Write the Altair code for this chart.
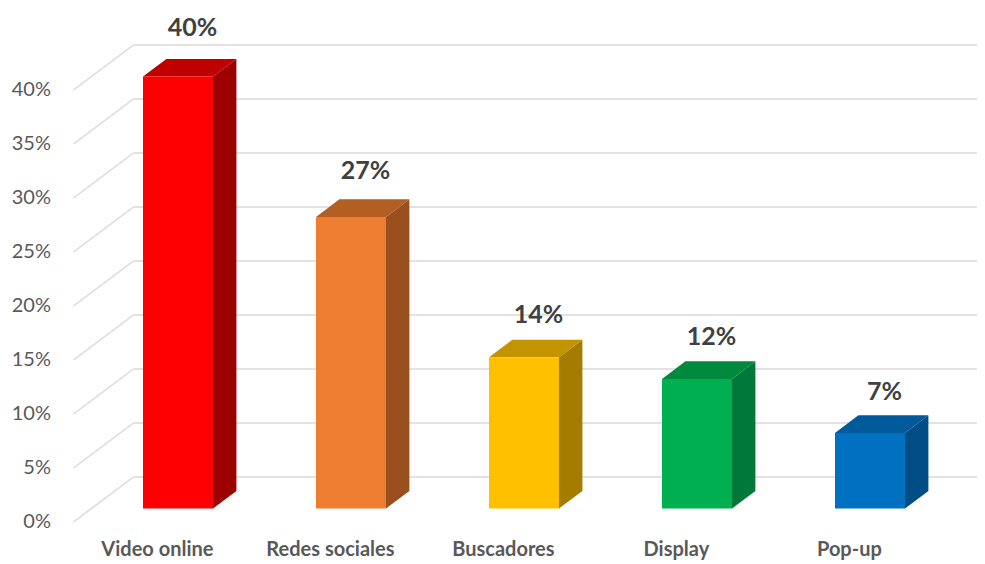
import altair as alt
import pandas as pd

# ---- data ----
categories = ["Video online", "Redes sociales", "Buscadores", "Display", "Pop-up"]
values = [40, 27, 14, 12, 7]
tick_values = [0, 5, 10, 15, 20, 25, 30, 35, 40]
tick_labels = ["0%", "5%", "10%", "15%", "20%", "25%", "30%", "35%", "40%"]

# ---- styles ----
front_colors = ["#FF0000", "#ED7D31", "#FFC000", "#00B050", "#0070C0"]
top_colors = ["#C00000", "#B35E22", "#C49300", "#008A3E", "#005A9B"]
side_colors = ["#9C0000", "#9A4F1E", "#A67C00", "#00783A", "#004C84"]
FONT = "Lato"

# ---- 3D projection geometry (category slot units / percent units) ----
PX_PER_SLOT = 173.0
PX_PER_PCT = 10.8
DX = 60.0 / PX_PER_SLOT      # depth shift in x (slot units)
DY = 45.0 / PX_PER_PCT       # depth shift in y (percent units)
Z0, Z1 = 0.30, 0.69          # bar front / back depth
BW = 70.0 / PX_PER_SLOT      # bar width

W, H = 969, 556
x_min = (8 - 160) / PX_PER_SLOT
x_max = x_min + W / PX_PER_SLOT
y_max = (522 - 8) / PX_PER_PCT
y_min = y_max - H / PX_PER_PCT

XS = alt.Scale(domain=[x_min, x_max], nice=False, zero=False)
YS = alt.Scale(domain=[y_min, y_max], nice=False, zero=False)

# gridlines on back wall
grid_df = pd.DataFrame({
    "x": [-0.5 + DX] * len(tick_values),
    "x2": [x_max + 1] * len(tick_values),
    "y": [t + DY for t in tick_values],
})
diag_df = pd.DataFrame({
    "x": [-0.5] * len(tick_values),
    "x2": [-0.5 + DX] * len(tick_values),
    "y": list(tick_values),
    "y2": [t + DY for t in tick_values],
})
ylab_df = pd.DataFrame({
    "x": [(51 - 160) / PX_PER_SLOT] * len(tick_values),
    "y": list(tick_values),
    "t": tick_labels,
})

front_rows, side_rows, top_rows, lab_rows, cat_rows = [], [], [], [], []
for i, (c, v) in enumerate(zip(categories, values)):
    cx0 = i + Z0 * DX
    cx1 = i + Z1 * DX
    y0 = Z0 * DY
    y1 = Z1 * DY
    front_rows.append({"cat": c, "x": cx0 - BW / 2, "x2": cx0 + BW / 2,
                       "y": y0, "y2": v + y0, "col": front_colors[i]})
    side_rows += [
        {"cat": c, "x": cx0 + BW / 2, "y": v + y0, "y2": y0, "col": side_colors[i]},
        {"cat": c, "x": cx1 + BW / 2, "y": v + y1, "y2": y1, "col": side_colors[i]},
    ]
    top_rows += [
        {"cat": c, "y": v + y0, "x": cx0 - BW / 2, "x2": cx0 + BW / 2, "col": top_colors[i]},
        {"cat": c, "y": v + y1, "x": cx1 - BW / 2, "x2": cx1 + BW / 2, "col": top_colors[i]},
    ]
    lab_rows.append({"x": i + 0.54 * DX, "y": v * 1.022 + 4.9, "t": f"{v}%"})
    cat_rows.append({"x": i - 0.015, "y": (522 - 550) / PX_PER_PCT, "t": c})

front_df = pd.DataFrame(front_rows)
side_df = pd.DataFrame(side_rows)
top_df = pd.DataFrame(top_rows)
lab_df = pd.DataFrame(lab_rows)
cat_df = pd.DataFrame(cat_rows)

grid = alt.Chart(grid_df).mark_rule(color="#D9D9D9", strokeWidth=1.5).encode(
    x=alt.X("x:Q", scale=XS, axis=None), x2="x2:Q",
    y=alt.Y("y:Q", scale=YS, axis=None))
diag = alt.Chart(diag_df).mark_rule(color="#D9D9D9", strokeWidth=1.5).encode(
    x=alt.X("x:Q", scale=XS, axis=None), x2="x2:Q",
    y=alt.Y("y:Q", scale=YS, axis=None), y2="y2:Q")
ylab = alt.Chart(ylab_df).mark_text(font=FONT, fontSize=20, color="#595959",
                                    align="right", baseline="middle").encode(
    x=alt.X("x:Q", scale=XS, axis=None), y=alt.Y("y:Q", scale=YS, axis=None), text="t:N")

side = alt.Chart(side_df).mark_area(orient="vertical").encode(
    x=alt.X("x:Q", scale=XS, axis=None),
    y=alt.Y("y:Q", scale=YS, axis=None, stack=None), y2="y2:Q",
    color=alt.Color("col:N", scale=None), detail="cat:N")
top = alt.Chart(top_df).mark_area(orient="horizontal").encode(
    y=alt.Y("y:Q", scale=YS, axis=None),
    x=alt.X("x:Q", scale=XS, axis=None, stack=None), x2="x2:Q",
    color=alt.Color("col:N", scale=None), detail="cat:N")
front = alt.Chart(front_df).mark_rect().encode(
    x=alt.X("x:Q", scale=XS, axis=None), x2="x2:Q",
    y=alt.Y("y:Q", scale=YS, axis=None), y2="y2:Q",
    color=alt.Color("col:N", scale=None))

labels = alt.Chart(lab_df).mark_text(font=FONT, fontSize=25, fontWeight="bold",
                                     color="#404040", baseline="middle").encode(
    x=alt.X("x:Q", scale=XS, axis=None), y=alt.Y("y:Q", scale=YS, axis=None), text="t:N")
cats = alt.Chart(cat_df).mark_text(font=FONT, fontSize=20, fontWeight="bold",
                                   color="#595959", baseline="middle").encode(
    x=alt.X("x:Q", scale=XS, axis=None), y=alt.Y("y:Q", scale=YS, axis=None), text="t:N")

chart = alt.layer(grid, diag, ylab, side, top, front, labels, cats).properties(
    width=W, height=H, padding=0, autosize="none"
).configure_view(stroke=None)

chart.save("out.html", embed_options={"renderer": "svg", "actions": False})
